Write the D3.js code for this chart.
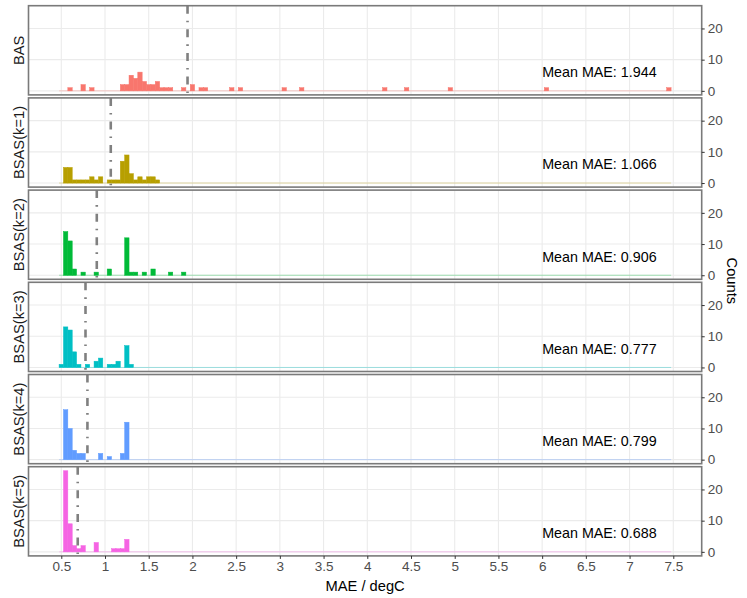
<!DOCTYPE html>
<html>
<head>
<meta charset="utf-8">
<script src="https://cdn.jsdelivr.net/npm/d3@7"></script>
<style>
  html, body { margin: 0; padding: 0; background: #fff; }
  svg { display: block; font-family: "Liberation Sans", Arial, Helvetica, sans-serif; }
</style>
</head>
<body>
<svg id="chart" width="747" height="598"></svg>
<script>
// ---------------- data ----------------
const panelNames = ["BAS", "BSAS(k=1)", "BSAS(k=2)", "BSAS(k=3)", "BSAS(k=4)", "BSAS(k=5)"];
const panelColors = ["#F8766D", "#B79F00", "#00BA38", "#00BFC4", "#619CFF", "#F564E3"];
const meanMAE = [1.944, 1.066, 0.906, 0.777, 0.799, 0.688];

// histogram bins: binwidth 0.05, first bin centred at 0.5, last at 7.45
const binWidth = 0.05;
const binFirstCenter = 0.5;
const binLastCenter = 7.45;

// non-empty bins per panel: [bin centre, count]
const binsBAS = [[0.60,1],[0.75,2],[0.85,1],[1.20,2],[1.25,2],[1.30,5],[1.35,4],[1.40,6],[1.45,3],
  [1.50,2],[1.55,2],[1.60,3],[1.65,1],[1.70,1],[1.75,1],[1.90,1],[2.00,2],[2.10,1],[2.15,1],
  [2.45,1],[2.55,1],[3.05,1],[3.25,1],[4.20,1],[4.45,1],[4.95,1],[6.05,1],[7.45,1]];
const binsK1 = [[0.55,5],[0.60,5],[0.65,1],[0.70,1],[0.75,1],[0.80,1],[0.85,2],[0.90,1],[0.95,2],
  [1.05,1],[1.10,1],[1.15,1],[1.20,7],[1.25,9],[1.30,3],[1.35,1],[1.40,2],[1.45,1],[1.50,2],
  [1.55,2],[1.60,1]];
const binsK2 = [[0.55,14],[0.60,11],[0.65,2],[0.75,1],[0.90,1],[1.05,2],[1.25,12],[1.30,1],[1.35,1],
  [1.45,1],[1.55,2],[1.75,1],[1.90,1]];
const binsK3 = [[0.50,1],[0.55,13],[0.60,12],[0.65,5],[0.70,1],[0.80,1],[0.90,2],[0.95,3],[1.05,1],
  [1.10,1],[1.15,2],[1.25,7],[1.30,1]];
const binsK4 = [[0.55,16],[0.60,10],[0.65,3],[0.70,2],[0.75,2],[0.95,2],[1.05,1],[1.20,2],[1.25,12]];
const binsK5 = [[0.55,26],[0.60,9],[0.65,2],[0.70,1],[0.75,2],[0.90,3],[1.10,1],[1.15,1],[1.20,1],[1.25,4]];
const panelBins = [binsBAS, binsK1, binsK2, binsK3, binsK4, binsK5];

const xTicks = [0.5,1,1.5,2,2.5,3,3.5,4,4.5,5,5.5,6,6.5,7,7.5];
const xTickLabels = ["0.5","1","1.5","2","2.5","3","3.5","4","4.5","5","5.5","6","6.5","7","7.5"];
const yTicks = [0, 10, 20];
const xTitle = "MAE / degC";
const yTitle = "Counts";

// ---------------- layout ----------------
const svg = d3.select("#chart");
const panelLeft = 28.5, panelRight = 701.7;
const panelTop = 5.7, panelH = 89.2, panelGap = 3;
const lastBottom = panelTop + 6 * panelH + 5 * panelGap;

const xMinEdge = binFirstCenter - binWidth / 2, xMaxEdge = binLastCenter + binWidth / 2;
const xPad = 0.05 * (xMaxEdge - xMinEdge);
const x = d3.scaleLinear().domain([xMinEdge - xPad, xMaxEdge + xPad]).range([panelLeft, panelRight]);
const maxCount = d3.max(panelBins.flat(), d => d[1]);

panelNames.forEach((name, i) => {
  const top = panelTop + i * (panelH + panelGap);
  const bottom = top + panelH;
  const y = d3.scaleLinear().domain([-0.05 * maxCount, maxCount * 1.05]).range([bottom, top]);
  const g = svg.append("g");

  // grid
  g.selectAll("line.vg").data(xTicks).join("line")
    .attr("x1", d => x(d)).attr("x2", d => x(d)).attr("y1", top).attr("y2", bottom)
    .attr("stroke", "#ebebeb").attr("stroke-width", 1.1);
  g.selectAll("line.hg").data(yTicks).join("line")
    .attr("x1", panelLeft).attr("x2", panelRight).attr("y1", d => y(d)).attr("y2", d => y(d))
    .attr("stroke", "#ebebeb").attr("stroke-width", 1.1);

  // zero-count bins outline along the baseline
  g.append("line")
    .attr("x1", x(xMinEdge)).attr("x2", x(xMaxEdge)).attr("y1", y(0)).attr("y2", y(0))
    .attr("stroke", panelColors[i]).attr("stroke-opacity", 0.35).attr("stroke-width", 1);

  // bars
  g.selectAll("rect.bar").data(panelBins[i]).join("rect")
    .attr("x", d => x(d[0] - binWidth / 2))
    .attr("width", d => x(d[0] + binWidth / 2) - x(d[0] - binWidth / 2))
    .attr("y", d => y(d[1]))
    .attr("height", d => y(0) - y(d[1]))
    .attr("fill", panelColors[i])
    .attr("stroke", panelColors[i]).attr("stroke-width", 0.5);

  // mean line
  g.append("line")
    .attr("x1", x(meanMAE[i])).attr("x2", x(meanMAE[i])).attr("y1", top).attr("y2", bottom)
    .attr("stroke", "#808080").attr("stroke-width", 2.6)
    .attr("stroke-dasharray", "8,7,1.6,7");

  // annotation
  g.append("text")
    .attr("x", x(6.0)).attr("y", y(6))
    .attr("dominant-baseline", "central")
    .attr("font-size", 14.3).attr("fill", "#000")
    .text("Mean MAE: " + meanMAE[i].toFixed(3));

  // border
  g.append("rect")
    .attr("x", panelLeft).attr("y", top).attr("width", panelRight - panelLeft).attr("height", panelH)
    .attr("fill", "none").attr("stroke", "#7a7a7a").attr("stroke-width", 1.6);

  // right y axis
  const ya = d3.axisRight(y).tickValues(yTicks).tickSize(3).tickPadding(3);
  const yg = g.append("g").attr("transform", `translate(${panelRight},0)`).call(ya);
  yg.select(".domain").remove();
  yg.selectAll(".tick line").attr("stroke", "#333").attr("stroke-width", 1);
  yg.selectAll(".tick text").attr("font-size", 13.5).attr("fill", "#4d4d4d")
    .attr("font-family", "Liberation Sans, Arial, sans-serif");

  // strip label (left)
  g.append("text")
    .attr("transform", `translate(18.5,${(top + bottom) / 2}) rotate(-90)`)
    .attr("text-anchor", "middle").attr("dominant-baseline", "central")
    .attr("font-size", 14.7).attr("fill", "#1a1a1a")
    .text(name);
});

// bottom x axis
const xa = d3.axisBottom(x).tickValues(xTicks).tickFormat((d, k) => xTickLabels[k]).tickSize(3).tickPadding(3);
const xg = svg.append("g").attr("transform", `translate(0,${lastBottom})`).call(xa);
xg.select(".domain").remove();
xg.selectAll(".tick line").attr("stroke", "#333");
xg.selectAll(".tick text").attr("font-size", 13.5).attr("fill", "#4d4d4d")
  .attr("font-family", "Liberation Sans, Arial, sans-serif");

svg.append("text")
  .attr("x", (panelLeft + panelRight) / 2).attr("y", 586)
  .attr("text-anchor", "middle").attr("dominant-baseline", "central")
  .attr("font-size", 14.7).attr("fill", "#000").text(xTitle);

svg.append("text")
  .attr("transform", `translate(732,${(panelTop + lastBottom) / 2}) rotate(90)`)
  .attr("text-anchor", "middle").attr("dominant-baseline", "central")
  .attr("font-size", 14.7).attr("fill", "#000").text(yTitle);
</script>
</body>
</html>
